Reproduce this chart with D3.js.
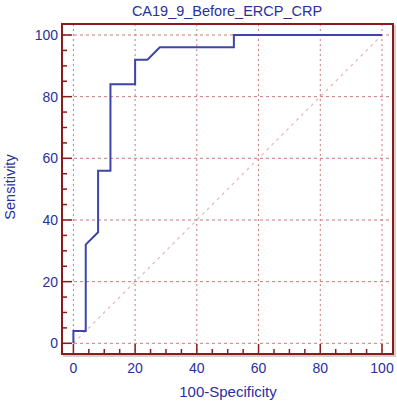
<!DOCTYPE html>
<html><head><meta charset="utf-8">
<script src="https://cdn.jsdelivr.net/npm/d3@7"></script>
<style>body{margin:0;background:#fff}svg{display:block}</style>
</head><body>
<script>
const title = "CA19_9_Before_ERCP_CRP";
const xLabel = "100-Specificity";
const yLabel = "Sensitivity";
const rocX = [0, 0, 4, 4, 8, 8, 12, 12, 20, 20, 24, 28, 52, 52, 100];
const rocY = [0, 4, 4, 32, 36, 56, 56, 84, 84, 92, 92, 96, 96, 100, 100];
const majorTicks = [0, 20, 40, 60, 80, 100];
const minorTicks = d3.range(0, 101, 5);

const W = 397, H = 402;
const svg = d3.select("body").append("svg").attr("width", W).attr("height", H);
const L = 62, R = 393, T = 24, B = 354;
const x = d3.scaleLinear().domain([0, 100]).range([73.4, 382]);
const y = d3.scaleLinear().domain([0, 100]).range([343.3, 35]);
const blue = "#2a2f9e", frame = "#8b1a1a", grid = "#c97a7a";
const font = "'Liberation Sans', Arial, sans-serif";

// shadow + frame
svg.append("rect").attr("x", L + 2).attr("y", T + 2).attr("width", R - L).attr("height", B - T)
  .attr("fill", "none").attr("stroke", "#d8cccc").attr("stroke-width", 2);
svg.append("rect").attr("x", L).attr("y", T).attr("width", R - L).attr("height", B - T)
  .attr("fill", "#fff");

// grid
const g = svg.append("g");
g.selectAll(".vg").data(majorTicks).join("line")
  .attr("x1", d => x(d)).attr("x2", d => x(d)).attr("y1", T).attr("y2", B)
  .attr("stroke", grid).attr("stroke-width", 1).attr("stroke-dasharray", "2,3");
g.selectAll(".hg").data(majorTicks).join("line")
  .attr("y1", d => y(d)).attr("y2", d => y(d)).attr("x1", L).attr("x2", R)
  .attr("stroke", grid).attr("stroke-width", 1).attr("stroke-dasharray", "3,3");

// diagonal
svg.append("line").attr("x1", x(0)).attr("y1", y(0)).attr("x2", x(100)).attr("y2", y(100))
  .attr("stroke", "#e2b8b8").attr("stroke-width", 1.2).attr("stroke-dasharray", "3,4");

// ticks (inward)
const t = svg.append("g").attr("stroke", frame);
t.selectAll(".xm").data(minorTicks).join("line")
  .attr("x1", d => x(d)).attr("x2", d => x(d))
  .attr("y1", B).attr("y2", d => B - (d % 20 === 0 ? 10 : 5)).attr("stroke-width", 1.5);
t.selectAll(".ym").data(minorTicks).join("line")
  .attr("y1", d => y(d)).attr("y2", d => y(d))
  .attr("x1", L).attr("x2", d => L + (d % 20 === 0 ? 10 : 5)).attr("stroke-width", 1.5);

// ROC curve
const pts = rocX.map((v, i) => [v, rocY[i]]);
svg.append("path").datum(pts)
  .attr("d", d3.line().x(d => x(d[0])).y(d => y(d[1])))
  .attr("fill", "none").attr("stroke", "#3d45a8").attr("stroke-width", 2);

// frame
svg.append("rect").attr("x", L).attr("y", T).attr("width", R - L).attr("height", B - T)
  .attr("fill", "none").attr("stroke", frame).attr("stroke-width", 2);

// labels
svg.selectAll(".xl").data(majorTicks).join("text")
  .attr("x", d => x(d)).attr("y", 373).attr("text-anchor", "middle")
  .attr("font-family", font).attr("font-size", 14).attr("fill", blue).text(d => d);
svg.selectAll(".yl").data(majorTicks).join("text")
  .attr("x", 58).attr("y", d => y(d) + 5).attr("text-anchor", "end")
  .attr("font-family", font).attr("font-size", 14).attr("fill", blue).text(d => d);
svg.append("text").attr("x", 227).attr("y", 16).attr("text-anchor", "middle")
  .attr("font-family", font).attr("font-size", 14.5).attr("fill", blue).text(title);
svg.append("text").attr("x", 228).attr("y", 397).attr("text-anchor", "middle")
  .attr("font-family", font).attr("font-size", 15).attr("fill", blue).text(xLabel);
svg.append("text").attr("transform", "translate(15,187) rotate(-90)").attr("text-anchor", "middle")
  .attr("font-family", font).attr("font-size", 14.5).attr("fill", blue).text(yLabel);
</script>
</body></html>
